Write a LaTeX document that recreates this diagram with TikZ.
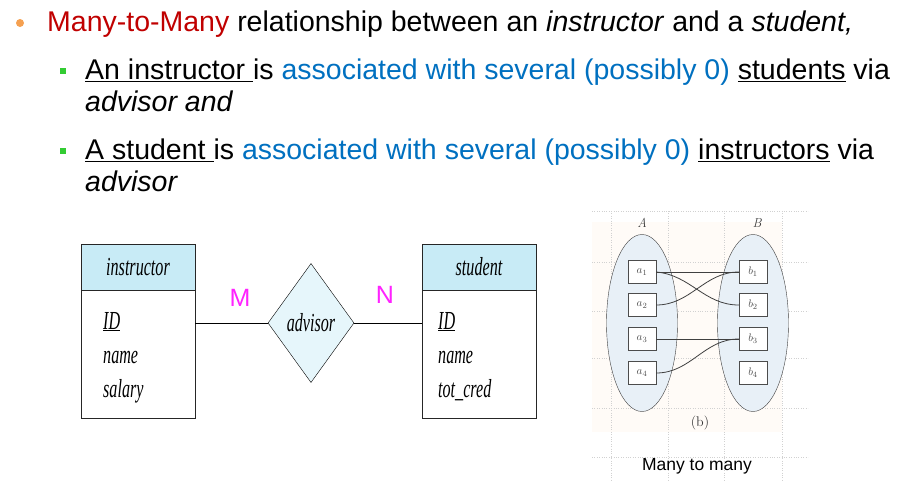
\documentclass[tikz,border=0pt]{standalone}
\usepackage{fontspec}
\usepackage{graphicx}
\newfontfamily\slidefont{Liberation Sans}
\newfontfamily\erfont{Liberation Serif}
\usetikzlibrary{shapes.geometric,positioning}
\definecolor{slide-red}{HTML}{C00000}
\definecolor{slide-blue}{HTML}{0070C0}
\definecolor{slide-orange}{HTML}{F5A050}
\definecolor{slide-green}{HTML}{33CC33}
\definecolor{card-magenta}{HTML}{FF22FF}
\definecolor{head-blue}{HTML}{C8EBF6}
\definecolor{rel-blue}{HTML}{E6F6FB}
\definecolor{set-blue}{HTML}{E8F0F7}
\newcommand\ertext[1]{\scalebox{0.62}[1]{\erfont\itshape #1}}
\tikzset{
    slide-line/.style = {anchor=base west, inner sep=0pt, font=\slidefont\fontsize{28.5}{32}\selectfont},
    entity-head/.style = {draw=black!85, fill=head-blue, rectangle, minimum width=114pt, minimum height=46pt, inner sep=0pt, font=\fontsize{26}{30}\selectfont},
    entity-body/.style = {draw=black!85, fill=white, rectangle, minimum width=114pt, minimum height=128pt, inner sep=0pt},
    attr-list/.style = {anchor=north west, align=left, inner sep=0pt, font=\fontsize{26}{34}\selectfont},
    relation/.style = {draw=black, fill=rel-blue, diamond, aspect=0.72, minimum width=86pt, minimum height=119pt, inner sep=0pt, font=\fontsize{26}{30}\selectfont},
    card/.style = {text=card-magenta, font=\slidefont\fontsize{25}{30}\selectfont},
    set-oval/.style = {draw=black!75, fill=set-blue, ellipse, minimum width=71pt, minimum height=177pt},
    elem-box/.style = {draw=black!70, fill=white, rectangle, minimum width=28pt, minimum height=23pt, inner sep=0pt, font=\fontsize{11}{12}\selectfont, text=black!70},
    map-line/.style = {draw=black!75, line width=0.8pt},
}
\begin{document}
\begin{tikzpicture}[x=1pt,y=-1pt]
\useasboundingbox (0,0) rectangle (903,493);
% bullet text
\fill[slide-orange] (20,23) circle (4pt);
\node[slide-line] (l1) at (47,31.5) {\textcolor{slide-red}{Many-to-Many} relationship between an \textit{instructor} and a \textit{student,}};
\fill[slide-green] (60,68) rectangle (66,74);
\node[slide-line] (l2) at (85,79.5) {\underline{An instructor }is \textcolor{slide-blue}{associated with several (possibly 0)} \underline{students} via};
\node[slide-line] (l3) at (85,111.5) {\textit{advisor and}};
\fill[slide-green] (60,148) rectangle (66,154);
\node[slide-line] (l4) at (85,159.5) {\underline{A student }is \textcolor{slide-blue}{associated with several (possibly 0)} \underline{instructors} via};
\node[slide-line] (l5) at (85,191.5) {\textit{advisor}};
% E-R diagram
\node[entity-head] (instr-head) at (138,267) {\ertext{instructor}};
\node[entity-body, below=0pt of instr-head] (instr-body) {};
\node[attr-list] (instr-attrs) at (103,312) {\ertext{\underline{ID}}\\\ertext{name}\\\ertext{salary}};
\node[entity-head] (stud-head) at (479,267) {\ertext{student}};
\node[entity-body, below=0pt of stud-head] (stud-body) {};
\node[attr-list] (stud-attrs) at (438,312) {\ertext{\underline{ID}}\\\ertext{name}\\\ertext{tot\_cred}};
\node[relation] (advisor) at (311,323) {\ertext{advisor}};
\draw[thick] (instr-body.east |- advisor) -- (advisor.west);
\draw[thick] (advisor.east) -- (stud-body.west |- advisor);
\node[card] (card-m) at (240,298) {M};
\node[card] (card-n) at (385,295) {N};
% mapping figure
\fill[orange!3] (592,222) rectangle (782,432);
\foreach \gy in {211,262,311,358,408,457}
    \draw[black!18, dotted] (592,\gy) -- (808,\gy);
\foreach \gx in {611,668,724,782}
    \draw[black!18, dotted] (\gx,211) -- (\gx,482);
\node[set-oval] (set-a) at (642,323) {};
\node[set-oval] (set-b) at (753,323) {};
\node[font=\itshape\fontsize{13}{14}\selectfont, text=black!75] (label-a) at (642,223) {A};
\node[font=\itshape\fontsize{13}{14}\selectfont, text=black!75] (label-b) at (757,223) {B};
\foreach \i/\y in {1/272,2/305,3/339,4/373} {
    \node[elem-box] (a\i) at (642,\y) {$a_{\i}$};
    \node[elem-box] (b\i) at (753,\y) {$b_{\i}$};
}
\draw[map-line] (a1.east) -- (b1.west);
\draw[map-line] (a1.east) to[out=-5,in=180] (b2.west);
\draw[map-line] (a2.east) to[out=0,in=180] (b1.west);
\draw[map-line] (a3.east) -- (b3.west);
\draw[map-line] (a4.east) to[out=0,in=180] (b3.west);
\node[font=\fontsize{14}{16}\selectfont, text=black!80] (fig-tag) at (700,423) {(b)};
\node[font=\slidefont\fontsize{17.5}{20}\selectfont] (fig-caption) at (697,466) {Many to many};
\end{tikzpicture}
\end{document}
